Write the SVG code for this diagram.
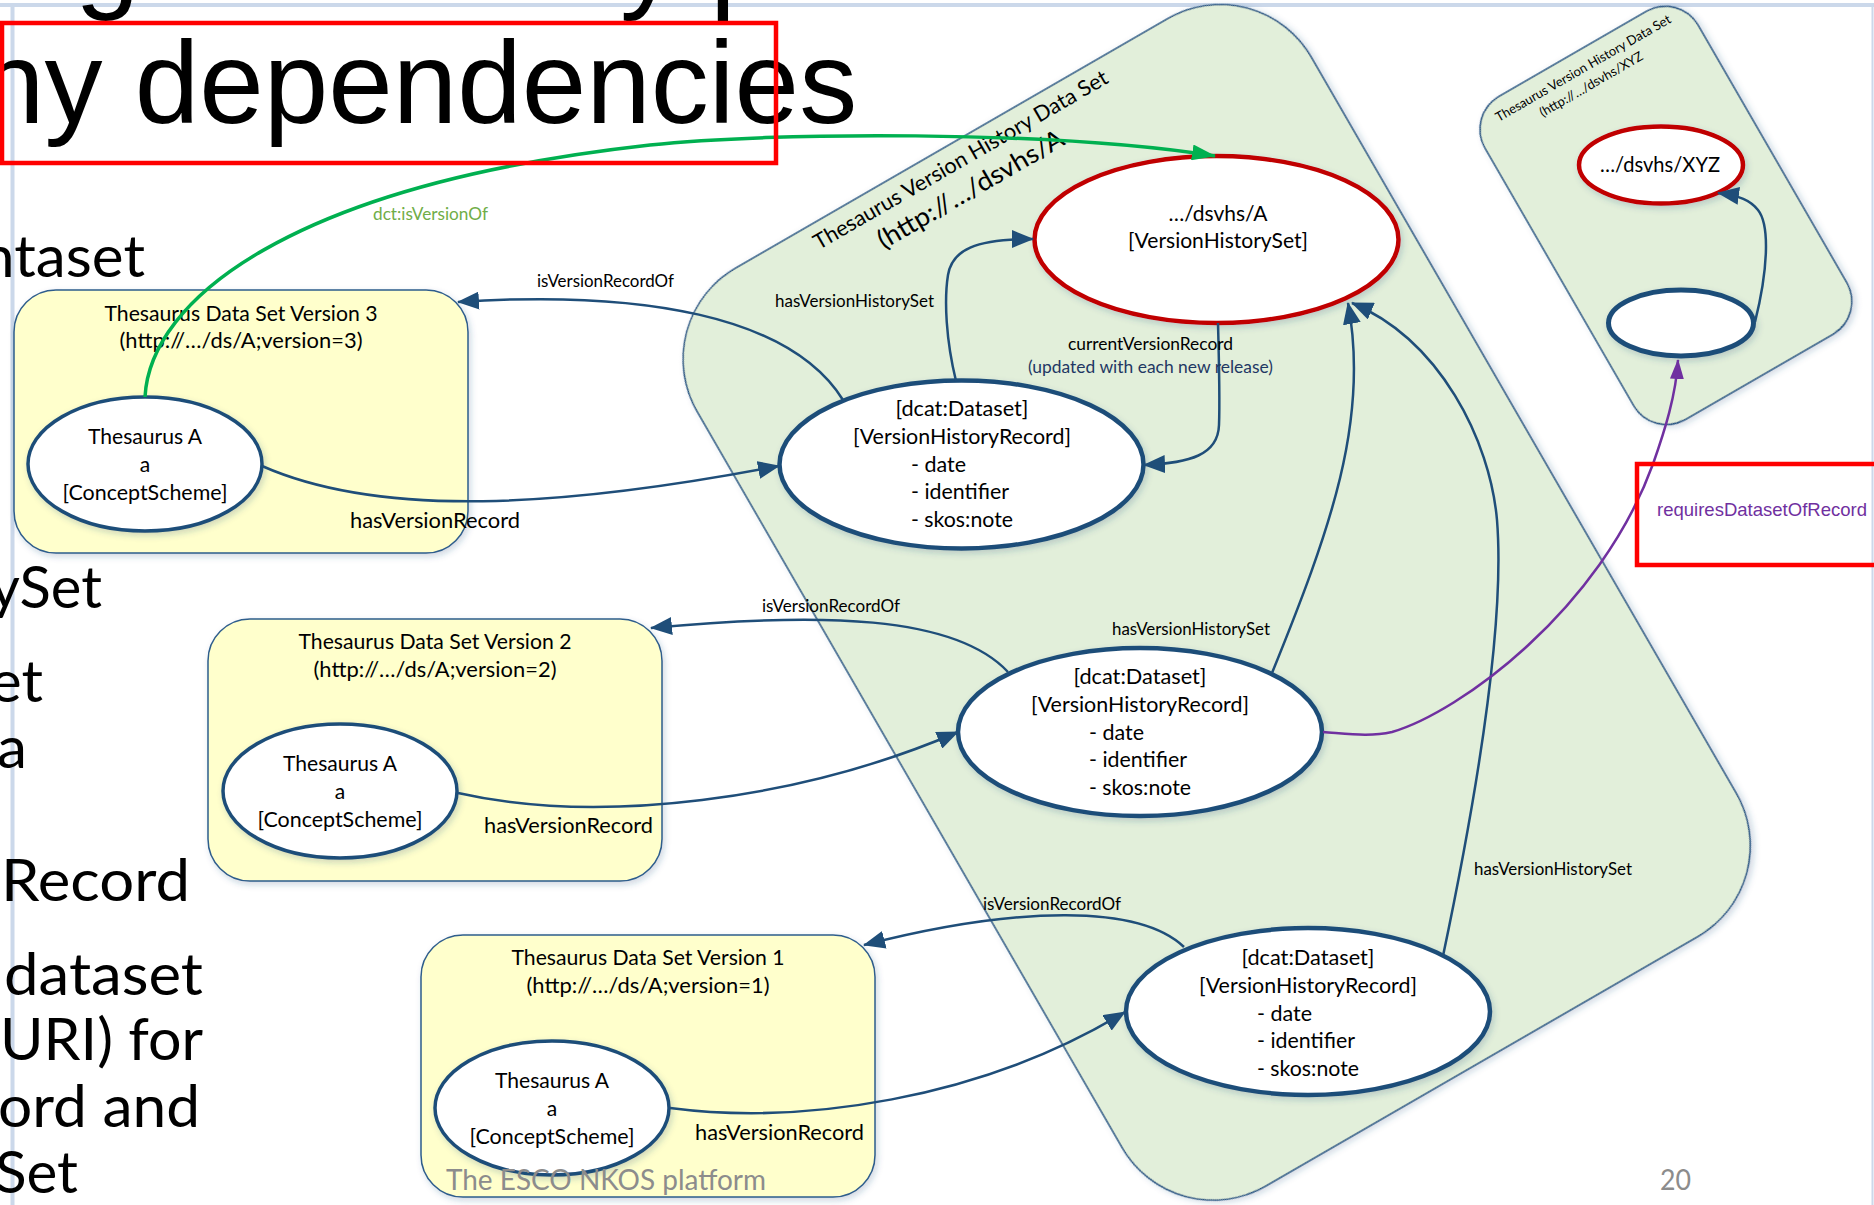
<svg xmlns="http://www.w3.org/2000/svg" width="1874" height="1205" viewBox="0 0 1874 1205">
<style>
.c{font-family:Lato,"Open Sans",sans-serif;fill:#000}
.s21{font-size:21px}
.s16{font-size:16.5px}
.big{font-family:Lato,"Open Sans",sans-serif;font-size:59px;fill:#000}
.ttl{font-family:"Liberation Sans",Arial,sans-serif;font-size:116px;fill:#000}
.cont{fill:#e2efda;stroke:#295683;stroke-width:1.5}
.box{fill:#ffffcc;stroke:#2e5d8c;stroke-width:1.5}
.ell{fill:#fff;stroke:#1f4e79}
.red{fill:#fff;stroke:#c00000;stroke-width:4.5}
.con{fill:none;stroke:#1f4e79;stroke-width:2.5}
.hl{fill:none;stroke:#ff0000;stroke-width:4.5}
.foot{font-family:Lato,"Open Sans",sans-serif;font-size:29px;fill:#8c8c8c}
</style>
<defs>
<filter id="sh" x="-15%" y="-15%" width="135%" height="135%">
<feDropShadow dx="2" dy="3" stdDeviation="3" flood-color="#1f4e79" flood-opacity="0.22"/>
</filter>
<marker id="mb" viewBox="0 0 22 18" refX="21" refY="9" markerWidth="22" markerHeight="18" markerUnits="userSpaceOnUse" orient="auto">
<path d="M0,0 L22,9 L0,18 z" fill="#1f4e79"/>
</marker>
<marker id="mg" viewBox="0 0 24 16" refX="23" refY="8" markerWidth="24" markerHeight="16" markerUnits="userSpaceOnUse" orient="auto">
<path d="M0,0 L24,8 L0,16 z" fill="#00b050"/>
</marker>
<marker id="mp" viewBox="0 0 20 14" refX="19" refY="7" markerWidth="20" markerHeight="14" markerUnits="userSpaceOnUse" orient="auto">
<path d="M0,0 L20,7 L0,14 z" fill="#7030a0"/>
</marker>
</defs>
<rect width="1874" height="1205" fill="#fff"/>
<!-- slide frame -->
<g id="frame" fill="none" stroke="#cbd8ea">
<line x1="0" y1="5" x2="1874" y2="5" stroke-width="4"/>
<line x1="12.5" y1="5" x2="12.5" y2="1205" stroke-width="4"/>
<line x1="1872.5" y1="5" x2="1872.5" y2="1205" stroke-width="2"/>
</g>
<!-- slide title and body text behind the diagram -->
<g id="slide-text">
<text class="ttl" y="-3"><tspan x="75">g</tspan><tspan x="620">y</tspan><tspan x="710">p</tspan></text>
<text class="ttl" x="-20" y="123">ny dependencies</text>
<text class="big" x="-19" y="277" textLength="164" lengthAdjust="spacingAndGlyphs">ntaset</text>
<text class="big" x="-10" y="608" textLength="112" lengthAdjust="spacingAndGlyphs">ySet</text>
<text class="big" x="-10" y="702" textLength="53" lengthAdjust="spacingAndGlyphs">et</text>
<text class="big" x="-3" y="768" textLength="30" lengthAdjust="spacingAndGlyphs">a</text>
<text class="big" x="1" y="901" textLength="189" lengthAdjust="spacingAndGlyphs">Record</text>
<text class="big" x="4" y="995" textLength="199" lengthAdjust="spacingAndGlyphs">dataset</text>
<text class="big" x="0" y="1060" textLength="203" lengthAdjust="spacingAndGlyphs">URI) for</text>
<text class="big" x="-2" y="1127" textLength="202" lengthAdjust="spacingAndGlyphs">ord and</text>
<text class="big" x="-5" y="1193" textLength="83" lengthAdjust="spacingAndGlyphs">Set</text>
</g>
<!-- containers -->
<g id="vhs-A-container">
<rect class="cont" x="398" y="600" width="709" height="1060" rx="105" transform="rotate(-30)" filter="url(#sh)"/>
<g transform="rotate(-30)">
<text class="c" x="752" y="626" font-size="21.5" text-anchor="middle" textLength="336" lengthAdjust="spacingAndGlyphs">Thesaurus Version History Data Set</text>
<text class="c" x="746" y="658" font-size="26" text-anchor="middle" textLength="211" lengthAdjust="spacingAndGlyphs">(http://…/dsvhs/A</text>
</g>
</g>
<g id="vhs-XYZ-container">
<rect class="cont" x="1212" y="833" width="246" height="373" rx="38" transform="rotate(-30)" filter="url(#sh)"/>
<g transform="rotate(-30)">
<text class="c" x="1337" y="855" font-size="13" text-anchor="middle" textLength="200" lengthAdjust="spacingAndGlyphs">Thesaurus Version History Data Set</text>
<text class="c" x="1336" y="873" font-size="13" text-anchor="middle" textLength="117" lengthAdjust="spacingAndGlyphs">(http://…/dsvhs/XYZ</text>
</g>
</g>
<!-- yellow dataset boxes -->
<g id="ds-v3">
<rect class="box" x="14" y="290" width="454" height="263" rx="42" filter="url(#sh)"/>
<text class="c s21" x="241" y="321" text-anchor="middle" textLength="273" lengthAdjust="spacingAndGlyphs">Thesaurus Data Set Version 3</text>
<text class="c s21" x="241" y="348" text-anchor="middle" textLength="243" lengthAdjust="spacingAndGlyphs">(http://…/ds/A;version=3)</text>
</g>
<g id="ds-v2">
<rect class="box" x="208" y="619" width="454" height="262" rx="42" filter="url(#sh)"/>
<text class="c s21" x="435" y="649" text-anchor="middle" textLength="273" lengthAdjust="spacingAndGlyphs">Thesaurus Data Set Version 2</text>
<text class="c s21" x="435" y="677" text-anchor="middle" textLength="243" lengthAdjust="spacingAndGlyphs">(http://…/ds/A;version=2)</text>
</g>
<g id="ds-v1">
<rect class="box" x="421" y="935" width="454" height="262" rx="42" filter="url(#sh)"/>
<text class="c s21" x="648" y="965" text-anchor="middle" textLength="273" lengthAdjust="spacingAndGlyphs">Thesaurus Data Set Version 1</text>
<text class="c s21" x="648" y="993" text-anchor="middle" textLength="243" lengthAdjust="spacingAndGlyphs">(http://…/ds/A;version=1)</text>
</g>
<!-- concept schemes -->
<g id="cs-v3">
<ellipse class="ell" cx="145" cy="464" rx="117" ry="67" stroke-width="3.5" filter="url(#sh)"/>
<text class="c s21" x="145" y="444" text-anchor="middle" textLength="114" lengthAdjust="spacingAndGlyphs">Thesaurus A</text>
<text class="c s21" x="145" y="472" text-anchor="middle">a</text>
<text class="c s21" x="145" y="500" text-anchor="middle" textLength="165" lengthAdjust="spacingAndGlyphs">[ConceptScheme]</text>
</g>
<g id="cs-v2">
<ellipse class="ell" cx="340" cy="791" rx="117" ry="67" stroke-width="3.5" filter="url(#sh)"/>
<text class="c s21" x="340" y="771" text-anchor="middle" textLength="114" lengthAdjust="spacingAndGlyphs">Thesaurus A</text>
<text class="c s21" x="340" y="799" text-anchor="middle">a</text>
<text class="c s21" x="340" y="827" text-anchor="middle" textLength="165" lengthAdjust="spacingAndGlyphs">[ConceptScheme]</text>
</g>
<g id="cs-v1">
<ellipse class="ell" cx="552" cy="1108" rx="117" ry="67" stroke-width="3.5" filter="url(#sh)"/>
<text class="c s21" x="552" y="1088" text-anchor="middle" textLength="114" lengthAdjust="spacingAndGlyphs">Thesaurus A</text>
<text class="c s21" x="552" y="1116" text-anchor="middle">a</text>
<text class="c s21" x="552" y="1144" text-anchor="middle" textLength="165" lengthAdjust="spacingAndGlyphs">[ConceptScheme]</text>
</g>
<!-- version history records -->
<g id="rec-1">
<ellipse class="ell" cx="961.5" cy="464.5" rx="182" ry="84" stroke-width="4.5" filter="url(#sh)"/>
<text class="c s21" x="962" y="416" text-anchor="middle" textLength="133" lengthAdjust="spacingAndGlyphs">[dcat:Dataset]</text>
<text class="c s21" x="962" y="444" text-anchor="middle" textLength="218" lengthAdjust="spacingAndGlyphs">[VersionHistoryRecord]</text>
<text class="c s21" x="911" y="472" textLength="55" lengthAdjust="spacingAndGlyphs">- date</text>
<text class="c s21" x="911" y="499" textLength="98" lengthAdjust="spacingAndGlyphs">- identifier</text>
<text class="c s21" x="911" y="527" textLength="102" lengthAdjust="spacingAndGlyphs">- skos:note</text>
</g>
<g id="rec-2">
<ellipse class="ell" cx="1140" cy="732" rx="182" ry="84" stroke-width="4.5" filter="url(#sh)"/>
<text class="c s21" x="1140" y="684" text-anchor="middle" textLength="133" lengthAdjust="spacingAndGlyphs">[dcat:Dataset]</text>
<text class="c s21" x="1140" y="712" text-anchor="middle" textLength="218" lengthAdjust="spacingAndGlyphs">[VersionHistoryRecord]</text>
<text class="c s21" x="1089" y="740" textLength="55" lengthAdjust="spacingAndGlyphs">- date</text>
<text class="c s21" x="1089" y="767" textLength="98" lengthAdjust="spacingAndGlyphs">- identifier</text>
<text class="c s21" x="1089" y="795" textLength="102" lengthAdjust="spacingAndGlyphs">- skos:note</text>
</g>
<g id="rec-3">
<ellipse class="ell" cx="1308" cy="1011.5" rx="182" ry="83.5" stroke-width="4.5" filter="url(#sh)"/>
<text class="c s21" x="1308" y="965" text-anchor="middle" textLength="133" lengthAdjust="spacingAndGlyphs">[dcat:Dataset]</text>
<text class="c s21" x="1308" y="993" text-anchor="middle" textLength="218" lengthAdjust="spacingAndGlyphs">[VersionHistoryRecord]</text>
<text class="c s21" x="1257" y="1021" textLength="55" lengthAdjust="spacingAndGlyphs">- date</text>
<text class="c s21" x="1257" y="1048" textLength="98" lengthAdjust="spacingAndGlyphs">- identifier</text>
<text class="c s21" x="1257" y="1076" textLength="102" lengthAdjust="spacingAndGlyphs">- skos:note</text>
</g>
<!-- version history sets -->
<g id="vhs-A">
<ellipse class="red" cx="1216.5" cy="239.5" rx="182" ry="83.5" filter="url(#sh)"/>
<text class="c s21" x="1218" y="221" text-anchor="middle" textLength="99" lengthAdjust="spacingAndGlyphs">…/dsvhs/A</text>
<text class="c s21" x="1218" y="248" text-anchor="middle" textLength="180" lengthAdjust="spacingAndGlyphs">[VersionHistorySet]</text>
</g>
<g id="vhs-XYZ">
<ellipse class="red" cx="1661" cy="165" rx="82" ry="38.5" filter="url(#sh)"/>
<text class="c" x="1660" y="172" font-size="20.5" text-anchor="middle" textLength="120" lengthAdjust="spacingAndGlyphs">…/dsvhs/XYZ</text>
</g>
<g id="rec-XYZ">
<ellipse class="ell" cx="1681" cy="323" rx="72.5" ry="33" stroke-width="5" filter="url(#sh)"/>
</g>
<!-- connectors -->
<g id="connectors">
<path class="con" d="M262,466 C380,518 560,508 779,466" stroke-width="4" marker-end="url(#mb)"/>
<path class="con" d="M843,400 C790,315 640,290 458,302" marker-end="url(#mb)"/>
<path class="con" d="M956,381 C946,340 944,300 948,275 C952,250 975,239 1033,239" marker-end="url(#mb)"/>
<path class="con" d="M1218,323 C1219,360 1220,400 1219,425 C1218,455 1190,463 1144,465" marker-end="url(#mb)"/>
<path class="con" d="M1272,673 C1330,530 1370,420 1348,303" marker-end="url(#mb)"/>
<path class="con" d="M1443,956 C1480,780 1505,620 1497,520 C1490,440 1440,340 1352,303" marker-end="url(#mb)"/>
<path class="con" d="M1008,672 C955,615 820,612 651,628" marker-end="url(#mb)"/>
<path class="con" d="M458,793 C600,825 800,800 958,732" marker-end="url(#mb)"/>
<path class="con" d="M1184,947 C1140,905 1020,905 864,945" marker-end="url(#mb)"/>
<path class="con" d="M670,1108 C800,1125 980,1100 1125,1012" marker-end="url(#mb)"/>
<path class="con" d="M1755,322 C1768,270 1770,225 1758,210 C1750,200 1740,196 1718,193" marker-end="url(#mb)"/>
<path d="M145,397 C150,300 290,185 650,145 C770,132 1050,130 1215,156" fill="none" stroke="#00b050" stroke-width="3.5" marker-end="url(#mg)"/>
<path d="M1323,732 C1350,734 1370,737 1392,732 C1460,712 1600,610 1653,464 C1665,430 1676,395 1678,360" fill="none" stroke="#7030a0" stroke-width="2.5" marker-end="url(#mp)"/>
<text class="c s16" x="373" y="220" style="fill:#70ad47" textLength="115" lengthAdjust="spacingAndGlyphs">dct:isVersionOf</text>
<text class="c s16" x="537" y="287" textLength="137" lengthAdjust="spacingAndGlyphs">isVersionRecordOf</text>
<text class="c s16" x="775" y="307" textLength="159" lengthAdjust="spacingAndGlyphs">hasVersionHistorySet</text>
<text class="c s16" x="1068" y="350" textLength="165" lengthAdjust="spacingAndGlyphs">currentVersionRecord</text>
<text class="c s16" x="1028" y="373" style="fill:#1f3864" textLength="245" lengthAdjust="spacingAndGlyphs">(updated with each new release)</text>
<text class="c s21" x="350" y="528" textLength="170" lengthAdjust="spacingAndGlyphs">hasVersionRecord</text>
<text class="c s16" x="762" y="612" textLength="138" lengthAdjust="spacingAndGlyphs">isVersionRecordOf</text>
<text class="c s16" x="1112" y="635" textLength="158" lengthAdjust="spacingAndGlyphs">hasVersionHistorySet</text>
<text class="c s21" x="484" y="833" textLength="169" lengthAdjust="spacingAndGlyphs">hasVersionRecord</text>
<text class="c s16" x="983" y="910" textLength="138" lengthAdjust="spacingAndGlyphs">isVersionRecordOf</text>
<text class="c s16" x="1474" y="875" textLength="158" lengthAdjust="spacingAndGlyphs">hasVersionHistorySet</text>
<text class="c s21" x="695" y="1140" textLength="169" lengthAdjust="spacingAndGlyphs">hasVersionRecord</text>
<text x="1657" y="516" font-family="Liberation Sans, Arial, sans-serif" font-size="18.5" fill="#7030a0" textLength="210" lengthAdjust="spacingAndGlyphs">requiresDatasetOfRecord</text>
</g>
<!-- highlight boxes -->
<g id="highlights">
<rect class="hl" x="2" y="23" width="774" height="140"/>
<rect class="hl" x="1637" y="464" width="245" height="101"/>
</g>
<!-- footer -->
<g id="footer">
<text class="foot" x="446" y="1190" textLength="320" lengthAdjust="spacingAndGlyphs">The ESCO NKOS platform</text>
<text class="foot" x="1660" y="1190" textLength="31" lengthAdjust="spacingAndGlyphs">20</text>
</g>
</svg>
